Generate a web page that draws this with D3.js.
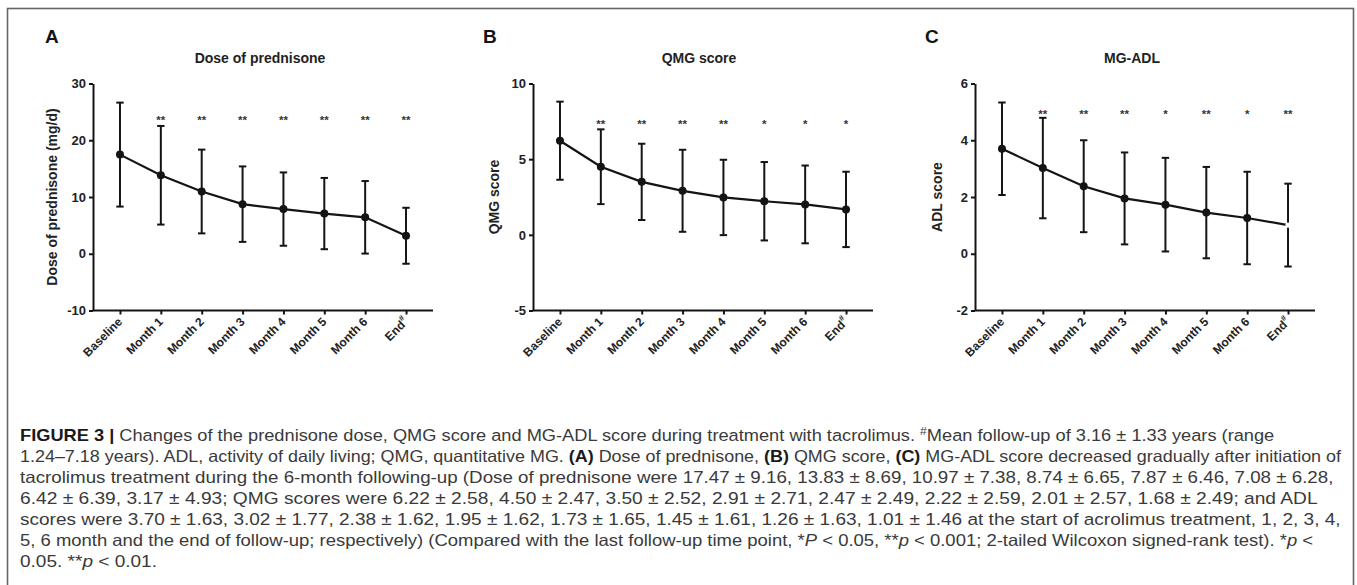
<!DOCTYPE html>
<html><head><meta charset="utf-8">
<script src="https://cdn.jsdelivr.net/npm/d3@7"></script>
<style>body{margin:0;background:#fff} svg{display:block}</style>
</head><body>
<svg id="c" width="1357" height="585"></svg>
<script>
const categories = ["Baseline","Month 1","Month 2","Month 3","Month 4","Month 5","Month 6","End"];
const doseMean = [17.47,13.83,10.97,8.74,7.87,7.08,6.42,3.17];
const doseSD   = [9.16,8.69,7.38,6.65,6.46,6.28,6.39,4.93];
const doseSig  = ["","**","**","**","**","**","**","**"];
const doseTicks = [-10,0,10,20,30];
const qmgMean = [6.22,4.50,3.50,2.91,2.47,2.22,2.01,1.68];
const qmgSD   = [2.58,2.47,2.52,2.71,2.49,2.59,2.57,2.49];
const qmgSig  = ["","**","**","**","**","*","*","*"];
const qmgTicks = [-5,0,5,10];
const adlMean = [3.70,3.02,2.38,1.95,1.73,1.45,1.26,1.01];
const adlSD   = [1.63,1.77,1.62,1.62,1.65,1.61,1.63,1.46];
const adlSig  = ["","**","**","**","*","**","*","**"];
const adlTicks = [-2,0,2,4,6];

const captionLines = [
  [["b","FIGURE 3 | "],["","Changes of the prednisone dose, QMG score and MG-ADL score during treatment with tacrolimus. "],["sup","#"],["","Mean follow-up of 3.16 \u00b1 1.33 years (range"]],
  [["","1.24\u20137.18 years). ADL, activity of daily living; QMG, quantitative MG. "],["b","(A)"],[""," Dose of prednisone, "],["b","(B)"],[""," QMG score, "],["b","(C)"],[""," MG-ADL score decreased gradually after initiation of"]],
  [["","tacrolimus treatment during the 6-month following-up (Dose of prednisone were 17.47 \u00b1 9.16, 13.83 \u00b1 8.69, 10.97 \u00b1 7.38, 8.74 \u00b1 6.65, 7.87 \u00b1 6.46, 7.08 \u00b1 6.28,"]],
  [["","6.42 \u00b1 6.39, 3.17 \u00b1 4.93; QMG scores were 6.22 \u00b1 2.58, 4.50 \u00b1 2.47, 3.50 \u00b1 2.52, 2.91 \u00b1 2.71, 2.47 \u00b1 2.49, 2.22 \u00b1 2.59, 2.01 \u00b1 2.57, 1.68 \u00b1 2.49; and ADL"]],
  [["","scores were 3.70 \u00b1 1.63, 3.02 \u00b1 1.77, 2.38 \u00b1 1.62, 1.95 \u00b1 1.62, 1.73 \u00b1 1.65, 1.45 \u00b1 1.61, 1.26 \u00b1 1.63, 1.01 \u00b1 1.46 at the start of acrolimus treatment, 1, 2, 3, 4,"]],
  [["","5, 6 month and the end of follow-up; respectively) (Compared with the last follow-up time point, *"],["i","P"],[""," < 0.05, **"],["i","p"],[""," < 0.001; 2-tailed Wilcoxon signed-rank test). *"],["i","p"],[""," <"]],
  [["","0.05. **"],["i","p"],[""," < 0.01."]]
];

const FONT = "'Liberation Sans', Arial, Helvetica, sans-serif";
const INK = "#141414";
const svg = d3.select("#c").style("font-family", FONT);

// frame
svg.append("rect").attr("x",7.5).attr("y",8.5).attr("width",1346).attr("height",620)
  .attr("fill","none").attr("stroke","#666").attr("stroke-width",1.6);

const panels = [
  {letter:"A", title:"Dose of prednisone", yLabel:"Dose of prednisone (mg/d)", mean:doseMean, sd:doseSD, sig:doseSig, ticks:doseTicks, starAt:24, x0:93, letterX:45, titleX:260, yLabelX:57, open:[]},
  {letter:"B", title:"QMG score", yLabel:"QMG score", mean:qmgMean, sd:qmgSD, sig:qmgSig, ticks:qmgTicks, starAt:7.5, x0:533, letterX:483, titleX:699, yLabelX:499, open:[]},
  {letter:"C", title:"MG-ADL", yLabel:"ADL score", mean:adlMean, sd:adlSD, sig:adlSig, ticks:adlTicks, starAt:5, x0:975, letterX:925, titleX:1132, yLabelX:942, open:[7]}
];

const yTop = 83.5, yBot = 310.5, W = 340;

panels.forEach(p => {
  const g = svg.append("g");
  const x = d3.scalePoint().domain(categories).range([p.x0, p.x0 + W]).padding(0.66);
  const y = d3.scaleLinear().domain([p.ticks[0], p.ticks[p.ticks.length-1]]).range([yBot, yTop]);

  g.append("text").attr("x",p.letterX).attr("y",43).text(p.letter)
    .attr("font-size",19).attr("font-weight","bold").attr("fill",INK);
  g.append("text").attr("x",p.titleX).attr("y",63).attr("text-anchor","middle").text(p.title)
    .attr("font-size",14).attr("font-weight","bold").attr("fill","#222");
  g.append("text").attr("transform",`translate(${p.yLabelX},${(yTop+yBot)/2}) rotate(-90)`)
    .attr("text-anchor","middle").text(p.yLabel)
    .attr("font-size",14).attr("font-weight","bold").attr("fill","#222");

  // y axis
  const ya = g.append("g").attr("transform",`translate(${p.x0},0)`)
    .call(d3.axisLeft(y).tickValues(p.ticks).tickSize(4).tickSizeOuter(0).tickPadding(3).tickFormat(d => String(d)));
  ya.select(".domain").attr("stroke",INK).attr("stroke-width",2);
  ya.selectAll(".tick line").attr("stroke",INK).attr("stroke-width",2);
  ya.selectAll(".tick text").attr("font-size",13).attr("font-weight","bold").attr("fill","#222").attr("font-family",FONT);

  // x axis
  const xa = g.append("g").attr("transform",`translate(0,${yBot})`)
    .call(d3.axisBottom(x).tickSize(4).tickSizeOuter(0).tickFormat(""));
  xa.select(".domain").attr("stroke",INK).attr("stroke-width",2).attr("d",`M${p.x0},0H${p.x0+W}`);
  xa.selectAll(".tick line").attr("stroke",INK).attr("stroke-width",2);
  categories.forEach(c => {
    const t = g.append("text")
      .attr("transform",`translate(${x(c)+3},${yBot+12}) rotate(-45)`)
      .attr("text-anchor","end").attr("font-size",12).attr("font-weight","bold").attr("fill","#222");
    if (c === "End") {
      t.append("tspan").text("End");
      t.append("tspan").text("#").attr("font-size",8).attr("dy",-6);
    } else t.text(c);
  });

  const data = categories.map((c,i) => ({c, m:p.mean[i], s:p.sd[i], sig:p.sig[i], i}));

  // error bars
  const eb = g.append("g").attr("stroke",INK).attr("stroke-width",2).attr("fill","none");
  data.forEach(d => {
    const cx = x(d.c);
    eb.append("line").attr("x1",cx).attr("x2",cx).attr("y1",y(d.m+d.s)).attr("y2",y(d.m-d.s));
    eb.append("line").attr("x1",cx-3.7).attr("x2",cx+3.7).attr("y1",y(d.m+d.s)).attr("y2",y(d.m+d.s));
    eb.append("line").attr("x1",cx-3.7).attr("x2",cx+3.7).attr("y1",y(d.m-d.s)).attr("y2",y(d.m-d.s));
  });

  // mean line
  g.append("path").datum(data)
    .attr("d", d3.line().x(d => x(d.c)).y(d => y(d.m)))
    .attr("fill","none").attr("stroke",INK).attr("stroke-width",2.2);

  // markers
  g.selectAll(null).data(data).enter().append("circle")
    .attr("cx",d => x(d.c)).attr("cy",d => y(d.m))
    .attr("r",d => p.open.includes(d.i) ? 2.6 : 4)
    .attr("fill",d => p.open.includes(d.i) ? "#fff" : INK);

  // significance stars
  g.selectAll(null).data(data.filter(d => d.sig)).enter().append("text")
    .attr("x",d => x(d.c)).attr("y",y(p.starAt)+6.5)
    .attr("text-anchor","middle").attr("font-size",11.5).attr("font-weight","bold")
    .attr("fill","#333").text(d => d.sig);
});

// caption
const capX = 20, capY0 = 441, capDY = 21;
const capWidths = [1256, 1322, 1314, 1299, 1322, 1294, 137];
captionLines.forEach((segs, li) => {
  const t = svg.append("text").attr("x",0).attr("y",0)
    .attr("font-size",16.5).attr("fill","#3a3a3a");
  segs.forEach(([st, txt]) => {
    const ts = t.append("tspan").text(txt);
    if (st === "b") ts.attr("font-weight","bold").attr("fill","#1a1a1a");
    if (st === "i") ts.attr("font-style","italic");
    if (st === "sup") ts.attr("font-size",11).attr("baseline-shift","super");
  });
  const w = t.node().getComputedTextLength();
  const sx = capWidths[li] / w;
  t.attr("transform",`translate(${capX},${capY0 + li*capDY}) scale(${sx},1)`);
});
</script>
</body></html>
